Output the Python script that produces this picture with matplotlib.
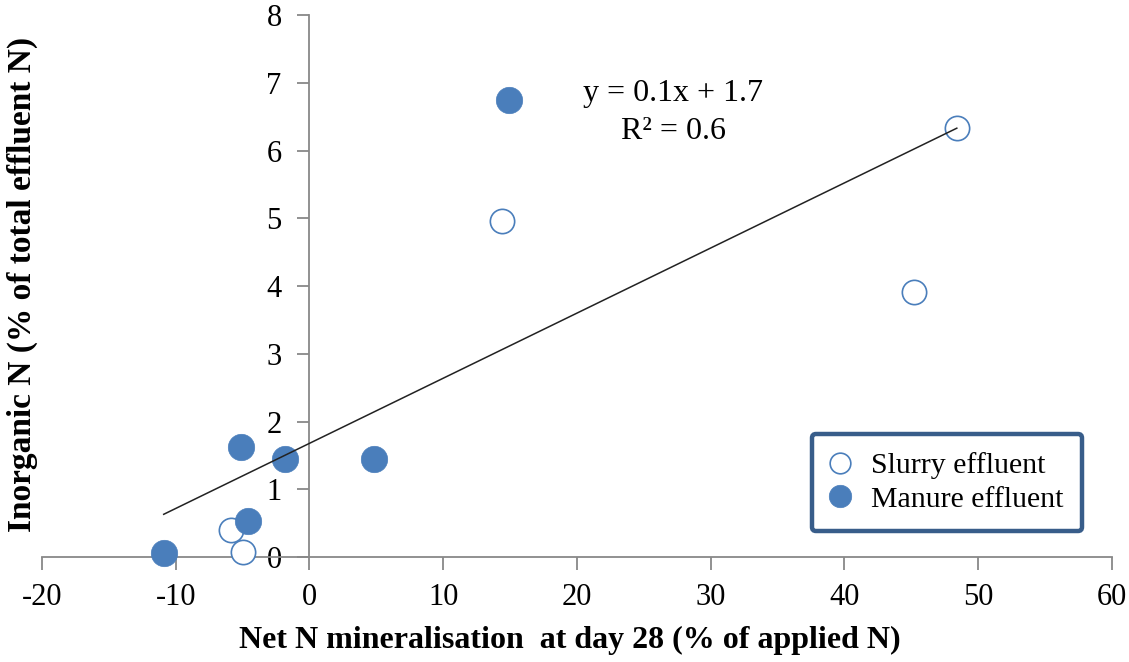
import matplotlib
matplotlib.use("Agg")
import matplotlib.pyplot as plt
import numpy as np

# values
slurry_x = [48.4, 14.4, 45.2, -5.9, -5.0]
slurry_y = [6.33, 4.96, 3.91, 0.40, 0.07]
manure_x = [14.9, -5.1, -1.8, 4.8, -4.6, -10.9]
manure_y = [6.75, 1.62, 1.45, 1.45, 0.53, 0.06]
x_ticks = [-20, -10, 0, 10, 20, 30, 40, 50, 60]
y_ticks = [0, 1, 2, 3, 4, 5, 6, 7, 8]

blue = "#4a7ebb"
grey = "#888888"

plt.rcParams["font.family"] = ["Liberation Serif", "DejaVu Serif"]
plt.rcParams["axes.unicode_minus"] = False

fig = plt.figure(figsize=(11.29, 6.62), dpi=100)
ax = fig.add_axes([0.0372, 0.1586, 0.9477, 0.8187])

ax.plot(slurry_x, slurry_y, "o", ms=17.5, mfc="white", mec=blue, mew=1.2,
        label="Slurry effluent", clip_on=False, zorder=3)
ax.plot(manure_x, manure_y, "o", ms=19, mfc=blue, mec=blue, mew=0.5,
        label="Manure effluent", clip_on=False, zorder=3)

# linear trendline over all points
all_x = np.array(slurry_x + manure_x)
all_y = np.array(slurry_y + manure_y)
slope, intercept = np.polyfit(all_x, all_y, 1)
r2 = np.corrcoef(all_x, all_y)[0, 1] ** 2
xs = np.array([all_x.min(), all_x.max()])
ax.plot(xs, slope * xs + intercept, color="#222222", lw=1.1, zorder=4)
ax.text(0.59, 0.82, f"y = {slope:.1f}x + {intercept:.1f}\nR² = {r2:.1f}",
        transform=ax.transAxes, ha="center", va="center", fontsize=23,
        linespacing=1.38)

ax.set_xlim(-20, 60)
ax.set_ylim(0, 8)
ax.set_xticks(x_ticks)
ax.set_yticks(y_ticks)
ax.spines["left"].set_position(("data", 0))
ax.spines["right"].set_visible(False)
ax.spines["top"].set_visible(False)
for s in ("left", "bottom"):
    ax.spines[s].set_color(grey)
    ax.spines[s].set_linewidth(1.3)
ax.tick_params(axis="both", colors=grey, labelcolor="black", length=9,
               width=1.3, labelsize=22)
ax.tick_params(axis="y", pad=11)
ax.tick_params(axis="x", pad=10)

leg = ax.legend(loc="upper left", bbox_to_anchor=(0.7196, 0.227),
                borderaxespad=0, fontsize=21.5, frameon=True, fancybox=True,
                framealpha=1, borderpad=0.62, labelspacing=0.22,
                handletextpad=0.72, handlelength=0.65, markerscale=0.85)
frame = leg.get_frame()
frame.set_edgecolor("#385d8a")
frame.set_linewidth(3.2)
frame.set_boxstyle("round,pad=0,rounding_size=0.15")

fig.text(0.0195, 0.571, "Inorganic N (% of total effluent N)", rotation=90,
         ha="center", va="center", fontsize=24, fontweight="bold")
fig.text(0.505, 0.033, "Net N mineralisation  at day 28 (% of applied N)",
         ha="center", va="center", fontsize=23, fontweight="bold")

fig.savefig("out.png", dpi=100)
